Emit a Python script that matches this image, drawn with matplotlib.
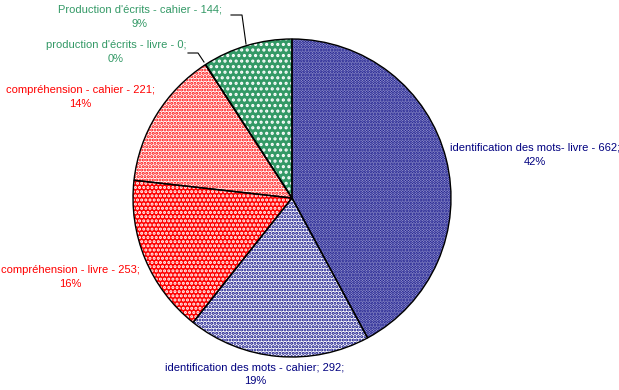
import matplotlib
matplotlib.use("Agg")
import matplotlib.pyplot as plt

# Datos del gráfico
categorias = ["identification des mots- livre", "identification des mots - cahier",
              "compréhension - livre", "compréhension - cahier",
              "production d'écrits - livre", "Production d'écrits - cahier"]
valores = [662, 292, 253, 221, 0, 144]
porcentajes = ["42%", "19%", "16%", "14%", "0%", "9%"]
etiquetas = ["identification des mots- livre - 662;",
             "identification des mots - cahier; 292;",
             "compréhension - livre - 253;",
             "compréhension - cahier - 221;",
             "production d'écrits - livre - 0;",
             "Production d'écrits - cahier - 144;"]

navy = "#000080"
rojo = "#FF0000"
verde = "#339966"

# fondo, color del patrón, patrón
fondos = ["#b4b4dc", "white", rojo, "white", verde, verde]
colores_patron = [navy, navy, "white", rojo, "white", "white"]
patrones = ["......", ".....", "....", ".....", "...", "..."]
colores_texto = [navy, navy, rojo, rojo, verde, verde]

plt.rcParams['font.family'] = ['Liberation Sans', 'DejaVu Sans']
plt.rcParams['hatch.linewidth'] = 1.5

fig = plt.figure(figsize=(6.19, 3.90), dpi=100)
ax = fig.add_axes([0, 0, 1, 1])

centro = (292, 192)
radio = 159

# Cuñas con patrón
cunas, _ = ax.pie(valores, colors=fondos, startangle=90, counterclock=False,
                  center=centro, radius=radio, frame=True,
                  wedgeprops=dict(linewidth=0))
for c, h, hc in zip(cunas, patrones, colores_patron):
    c.set_hatch(h)
    c.set_edgecolor(hc)
    c.set_linewidth(0)

# Contorno negro
ax.pie(valores, startangle=90, counterclock=False, center=centro, radius=radio,
       frame=True, wedgeprops=dict(fill=False, edgecolor='black', linewidth=1))
ax.set_xlim(0, 619)
ax.set_ylim(0, 390)
ax.set_aspect('equal')
ax.axis('off')

# Posiciones de las etiquetas (en píxeles, y desde arriba)
pos_etiquetas = [(535, 155), (255, 374), (70, 277), (80, 97), (116, 52), (140, 17)]
for texto, pct, col, (x, y) in zip(etiquetas, porcentajes, colores_texto, pos_etiquetas):
    ax.text(x, 390 - y, texto + "\n" + pct, color=col, fontsize=8,
            ha='center', va='center', linespacing=1.5)

# Líneas guía
ax.plot([188, 198, 204], [390 - 53, 390 - 53, 390 - 62], color='black', linewidth=0.8)
ax.plot([231, 242, 246], [390 - 15, 390 - 15, 390 - 44], color='black', linewidth=0.8)

fig.savefig("out.png", dpi=100)
